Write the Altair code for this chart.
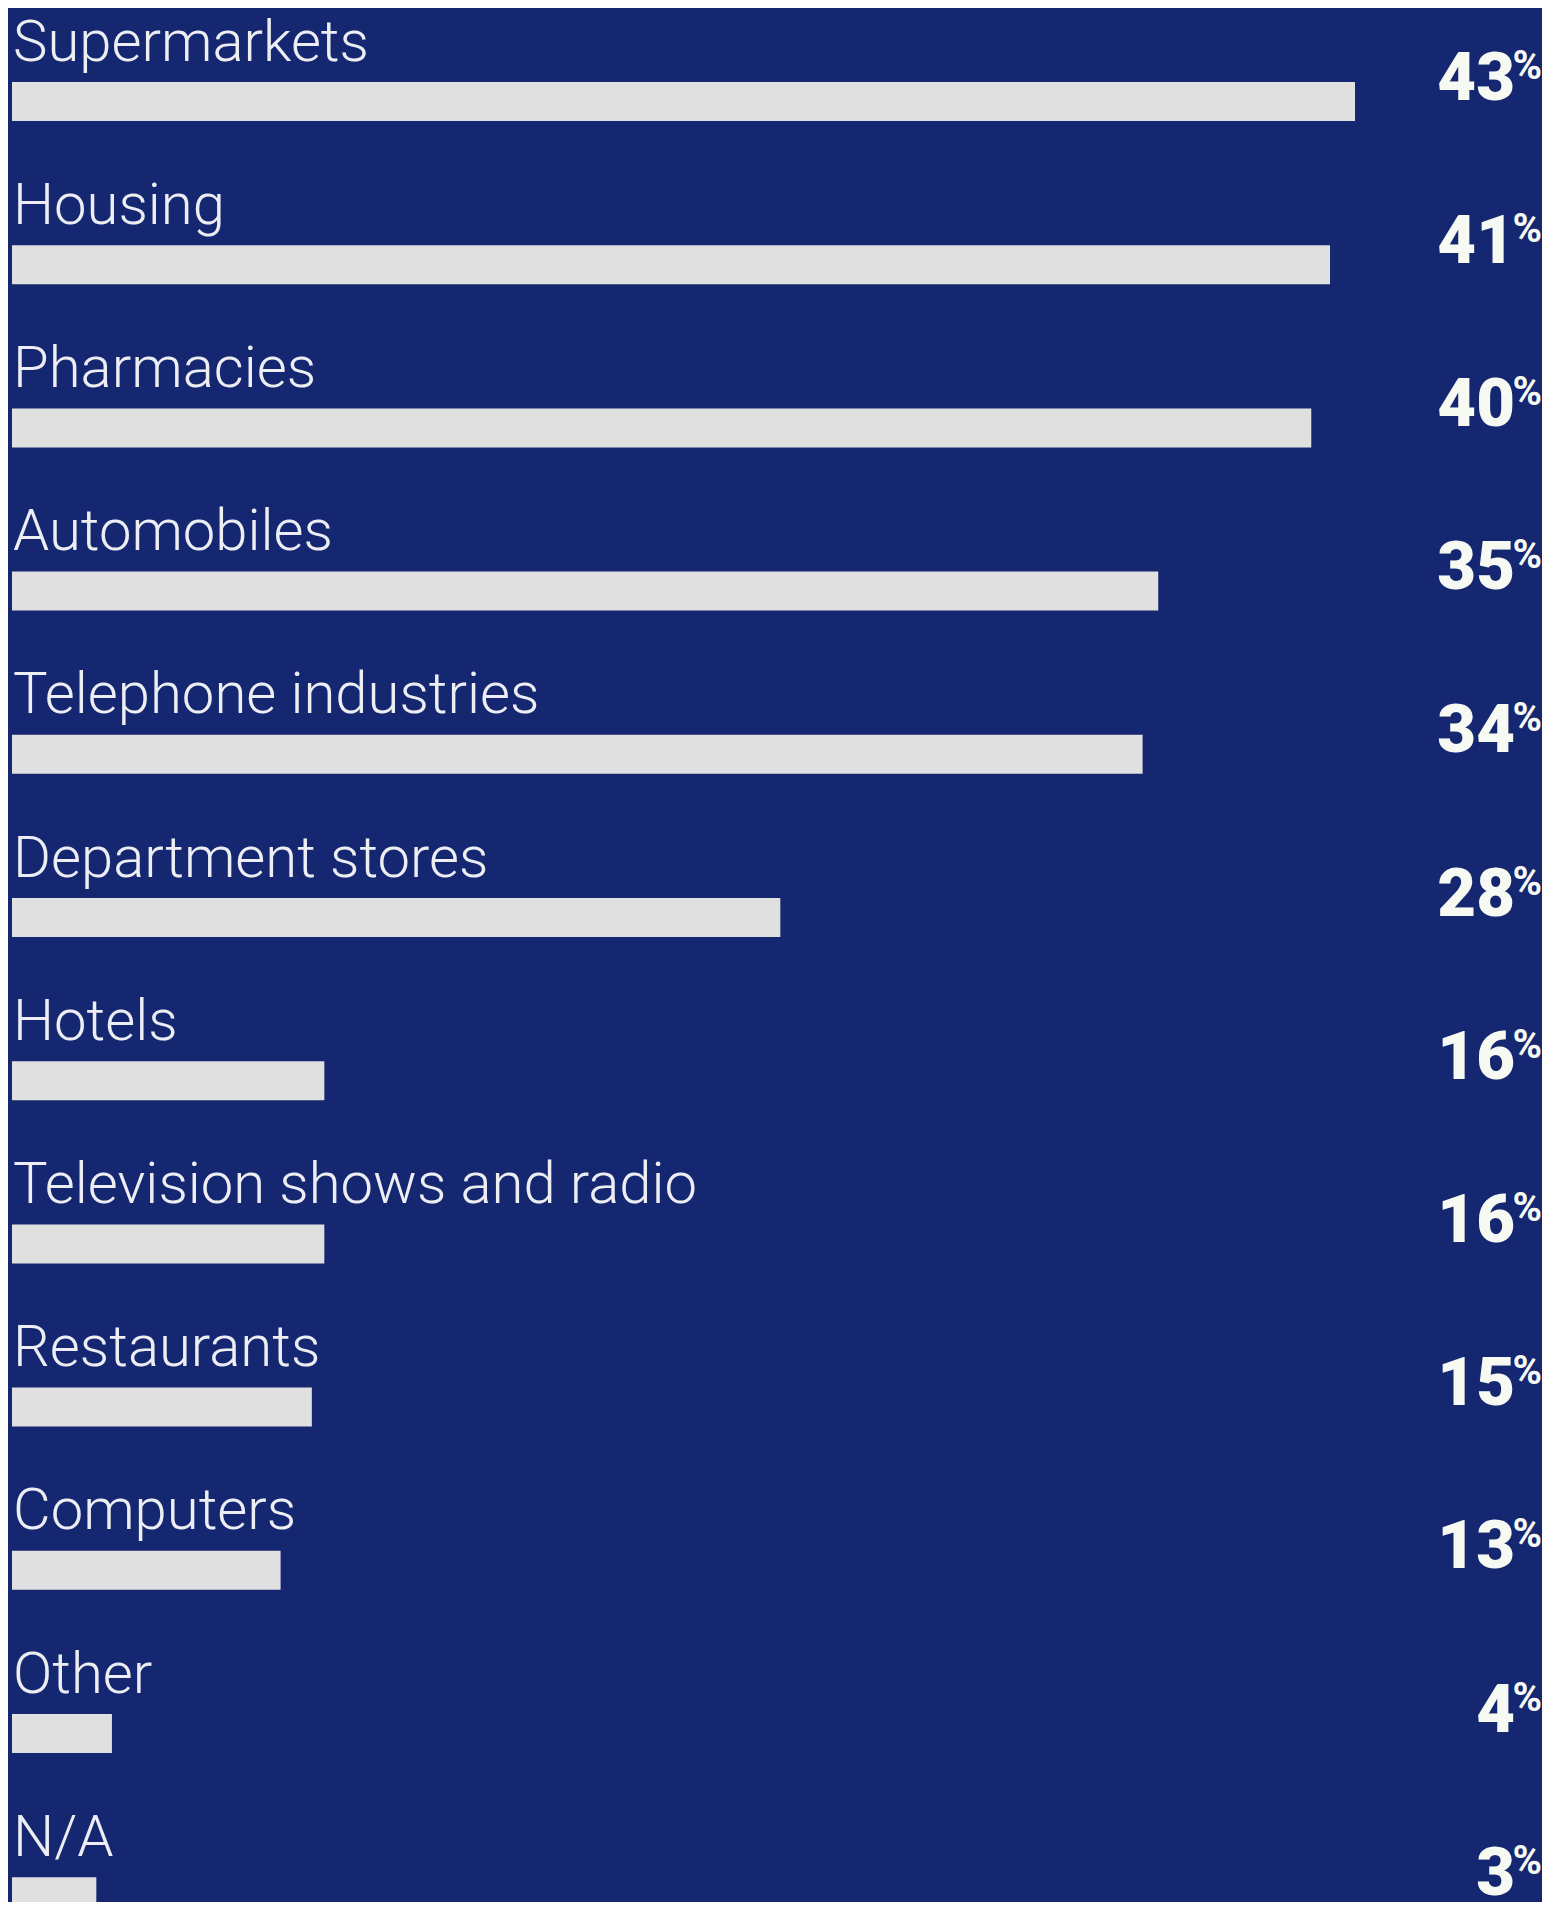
import altair as alt
import pandas as pd

categories = [
    "Supermarkets", "Housing", "Pharmacies", "Automobiles",
    "Telephone industries", "Department stores", "Hotels",
    "Television shows and radio", "Restaurants", "Computers", "Other", "N/A",
]
percent_labels = [43, 41, 40, 35, 34, 28, 16, 16, 15, 13, 4, 3]
# bar lengths as drawn in the reference (same units as the percent scale)
bar_lengths = [43.0, 42.2, 41.6, 36.7, 36.2, 24.6, 10.0, 10.0, 9.6, 8.6, 3.2, 2.7]

df = pd.DataFrame({
    "row": list(range(len(categories))),
    "category": categories,
    "pct": [str(v) for v in percent_labels],
    "bar": bar_lengths,
})

BG = "#152770"
W, H = 1534, 1894

x_scale = alt.Scale(domain=[0, 43], range=[4, 1347], nice=False, zero=True, padding=0)
y_scale = alt.Scale(domain=[0, 11], range=[93.5, 1888.7], nice=False, zero=False, padding=0)

x_enc = alt.X("bar:Q", scale=x_scale, axis=None)
y_enc = alt.Y("row:Q", scale=y_scale, axis=None)

base = alt.Chart(df)

bars = base.mark_bar(orient="horizontal", size=39, color="#e0e0e0").encode(
    x=x_enc, y=y_enc
)

labels = base.mark_text(
    align="left", baseline="alphabetic", dy=-41,
    font="Roboto", fontSize=58, fontWeight=300, color="#eceef4",
).encode(x=alt.value(5), y=y_enc, text="category:N")

numbers = base.mark_text(
    align="right", baseline="alphabetic", dy=-2,
    font="Roboto", fontSize=67, fontWeight=900, color="#f7faf2",
).encode(x=alt.value(1507), y=y_enc, text="pct:N")

pct_sign = base.mark_text(
    align="right", baseline="alphabetic", dy=-23,
    font="Roboto", fontSize=40, fontWeight=700, color="#f7faf2",
).encode(x=alt.value(1534), y=y_enc, text=alt.value("%"))

chart = alt.layer(bars, labels, numbers, pct_sign).properties(
    width=W, height=H, background=BG, padding=0,
    autosize=alt.AutoSizeParams(type="none"),
).configure_view(stroke=None)

chart.save("out.html", embed_options={"renderer": "svg", "actions": False})
